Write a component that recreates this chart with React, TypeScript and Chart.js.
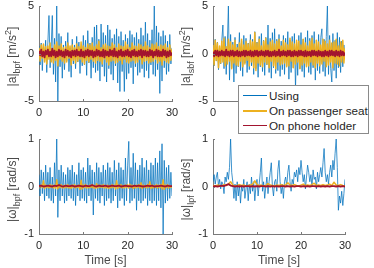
import React, { useEffect, useRef } from "react";
import { Chart, registerables } from "chart.js";

Chart.register(...registerables);

const W = 374;
const H = 268;
const FONT = "'Liberation Sans', Arial, Helvetica, sans-serif";
const BLUE = "#0072BD";
const YELLOW = "#EDB120";
const RED = "#A2142F";
const TICK_COLOR = "#262626";
const LABEL_COLOR = "#4a4a4a";
const AXIS_COLOR = "#7a7a7a";

const SERIES_NAMES = ["Using", "On passenger seat", "On phone holder"];
const X_TICKS = [0, 10, 20, 30];
const ACC_TICKS = [-5, 0, 5];
const GYRO_TICKS = [-1, 0, 1];
const TIME_SPAN = 30;
const X_TITLE = "Time [s]";

// ---- top-left: |a|bpf ----
const TL_USING = [
  0.8, -1.2, 1.1, -1.8, 0.9, -0.6, 1.4, -2.0,
  1.2, 4.0, -1.5, 0.7, 4.0, -2.2, 1.6, -3.0,
  5.0, -5.0, 2.1, -1.4, 1.8, -2.6, 0.9, -1.7,
  1.3, -0.8, 2.2, -1.9, 0.6, -2.5, 1.5, -1.1,
  0.9, -1.6, 1.8, -0.9, 1.2, -2.1, 0.7, -1.3,
  1.9, -1.2, 1.4, -2.3, 2.4, -1.0, 1.1, -2.6,
  1.7, -1.5, 2.8, -2.0, 3.0, -1.8, 1.5, -2.9,
  3.1, -1.4, 2.2, -2.4, 1.9, -3.0, 3.0, -1.6,
  2.5, -2.2, 1.6, -2.8, 2.0, -1.3, 2.6, -3.1,
  1.8, -4.0, 2.3, -1.9, 1.4, -4.0, 2.0, -2.7,
  1.6, -2.1, 2.4, -1.5, 2.0, -3.2, 1.7, -1.4,
  2.2, -2.3, 1.5, -2.0, 2.7, -1.6, 1.9, -2.5,
  3.3, -1.8, 2.1, -2.6, 1.4, -1.2, 2.5, -2.2,
  5.0, -2.4, 2.9, -1.7, 2.2, -4.2, 1.8, -2.9,
  2.4, -1.5, 1.9, -2.2, 1.3, -1.9, 2.0, -1.1, 0.6,
];
const TL_SEAT = [
  0.6, -0.8, 0.9, -0.5, 1.0, -0.9, 0.7, -1.1,
  0.8, -0.6, 1.1, -0.9, 0.5, -1.0, 0.9, -0.7,
  1.2, -1.3, 0.8, -0.6, 1.0, -0.8, 0.6, -1.0,
  0.7, -0.9, 1.1, -0.5, 0.8, -1.2, 0.9, -0.7,
  0.6, -1.0, 1.0, -0.8, 0.7, -0.6, 1.2, -0.9,
  0.8, -1.1, 0.6, -0.7, 1.0, -0.9, 0.9, -0.6,
  1.1, -0.8, 0.7, -1.0, 0.9, -0.7, 1.3, -0.8,
  0.6, -1.1, 0.9, -0.6, 1.0, -0.9, 0.8, -1.2,
  0.7, -0.8, 1.1, -0.7, 0.9, -1.0, 0.6, -0.9,
  1.0, -0.7, 0.8, -1.1, 0.7, -0.6, 1.2, -0.9,
  0.9, -1.0, 0.6, -0.8, 1.1, -0.7, 0.8, -1.0,
  0.7, -0.9, 1.0, -0.6, 0.9, -1.1, 0.7, -0.8,
  1.2, -0.7, 0.8, -1.0, 0.6, -0.9, 1.0, -0.8,
  0.9, -0.6, 1.1, -1.0, 0.7, -0.8, 0.9, -1.2,
  0.8, -0.7, 1.0, -0.9, 0.6, -1.0, 0.9, -0.7, 0.5,
];
const TL_HOLDER = [
  0.3, -0.2, 0.4, -0.3, 0.2, -0.4, 0.3, -0.1,
  0.4, -0.3, 0.2, -0.3, 0.5, -0.2, 0.3, -0.4,
  0.2, -0.3, 0.4, -0.2, 0.3, -0.3, 0.2, -0.4,
  0.4, -0.2, 0.3, -0.3, 0.2, -0.4, 0.3, -0.2,
  0.3, -0.3, 0.4, -0.2, 0.2, -0.3, 0.4, -0.3,
  0.2, -0.4, 0.3, -0.2, 0.4, -0.3, 0.3, -0.2,
  0.3, -0.4, 0.2, -0.3, 0.4, -0.2, 0.3, -0.3,
  0.2, -0.3, 0.4, -0.4, 0.3, -0.2, 0.2, -0.3,
  0.4, -0.2, 0.3, -0.3, 0.5, -0.3, 0.2, -0.4,
  0.3, -0.2, 0.4, -0.3, 0.2, -0.3, 0.3, -0.2,
  0.4, -0.3, 0.2, -0.4, 0.3, -0.2, 0.4, -0.3,
  0.2, -0.3, 0.3, -0.2, 0.4, -0.4, 0.3, -0.2,
  0.3, -0.3, 0.2, -0.3, 0.4, -0.2, 0.3, -0.4,
  0.2, -0.2, 0.4, -0.3, 0.3, -0.3, 0.2, -0.3,
  0.4, -0.2, 0.3, -0.4, 0.2, -0.3, 0.3, -0.2, 0.1,
];

// ---- top-right: |a|sbf ----
const TR_USING = [
  0.9, -1.3, 1.5, -0.8, 1.2, -1.7, 0.6, -1.1,
  1.4, 3.0, -1.6, 1.8, -2.2, 0.9, 5.0, -2.8,
  2.0, -1.5, 1.2, -3.0, 1.7, -2.1, 1.0, -1.4,
  2.2, -1.8, 1.3, -2.4, 1.9, -1.0, 1.6, -2.0,
  1.1, -1.7, 2.0, -1.3, 1.5, -2.2, 2.3, -1.6,
  1.2, -2.5, 1.8, -1.4, 2.1, -1.9, 1.4, -2.3,
  1.7, -1.2, 3.0, -2.0, 1.6, -2.6, 2.2, -1.5,
  2.6, -2.1, 1.5, -1.8, 2.0, -2.4, 1.3, -1.7,
  1.9, -2.2, 1.6, -1.3, 2.3, -2.7, 1.4, -2.0,
  1.8, -1.5, 2.1, -3.7, 1.2, -2.3, 1.9, -1.6,
  2.2, -1.9, 1.5, -2.5, 1.7, -1.4, 2.4, -2.0,
  1.6, -2.2, 1.9, -1.5, 2.3, -2.8, 1.4, -1.8,
  2.0, -2.1, 1.7, 2.6, -1.9, 1.5, -2.4, 1.8,
  5.0, -2.2, 1.9, -1.6, -3.0, 2.1, -1.8, 1.4,
  -2.6, 2.2, -1.5, 1.7, -2.0, 1.3, -1.4, 0.9, -0.6,
];
const TR_SEAT = [
  0.9, -1.2, 1.4, -0.7, 1.1, -1.5, 0.8, -1.0,
  1.3, -0.9, 1.6, -1.3, 0.7, -1.1, 1.5, -0.8,
  1.2, -1.6, 0.9, -1.0, 1.4, -1.2, 0.6, -1.3,
  1.1, -0.8, 1.5, -1.4, 0.9, -1.1, 1.3, -0.7,
  1.0, -1.3, 1.4, -0.9, 1.2, -1.5, 2.2, -1.8,
  1.1, -1.0, 1.5, -1.2, 0.8, -1.4, 1.3, -0.9,
  1.6, -1.1, 0.9, -1.5, 1.2, -0.8, 1.4, -1.3,
  1.0, -1.6, 1.3, -0.9, 1.5, -1.2, 0.8, -1.1,
  1.4, -1.0, 1.1, -1.4, 0.9, -1.3, 1.6, -0.8,
  1.2, -1.5, 1.0, -1.1, 1.4, -0.9, 1.3, -1.6,
  0.9, -1.2, 1.5, -1.0, 1.1, -1.4, 0.8, -1.3,
  1.3, -0.9, 1.6, -1.2, 1.0, -1.5, 1.4, -1.0,
  1.2, -1.3, 0.9, -1.1, 1.5, -0.8, 1.3, -1.4,
  1.0, -1.2, 1.4, -0.9, 1.1, -1.5, 1.2, -1.0,
  1.5, -1.1, 0.8, -1.3, 1.2, -0.9, 1.4, -1.0, 0.6,
];
const TR_HOLDER = [
  0.2, -0.3, 0.3, -0.2, 0.3, -0.3, 0.2, -0.2,
  0.3, -0.2, 0.2, -0.3, 0.4, -0.2, 0.2, -0.3,
  0.3, -0.2, 0.3, -0.3, 0.2, -0.2, 0.3, -0.3,
  0.2, -0.3, 0.2, -0.2, 0.3, -0.3, 0.3, -0.2,
  0.2, -0.2, 0.3, -0.3, 0.2, -0.3, 0.3, -0.2,
  0.3, -0.3, 0.2, -0.2, 0.3, -0.2, 0.2, -0.3,
  0.3, -0.2, 0.3, -0.3, 0.2, -0.3, 0.2, -0.2,
  0.3, -0.3, 0.2, -0.2, 0.4, -0.3, 0.2, -0.2,
  0.3, -0.2, 0.2, -0.3, 0.3, -0.2, 0.3, -0.3,
  0.2, -0.3, 0.3, -0.2, 0.2, -0.3, 0.3, -0.2,
  0.3, -0.2, 0.2, -0.3, 0.3, -0.3, 0.2, -0.2,
  0.2, -0.3, 0.3, -0.2, 0.3, -0.2, 0.2, -0.3,
  0.3, -0.2, 0.2, -0.3, 0.2, -0.3, 0.3, -0.2,
  0.2, -0.3, 0.3, -0.2, 0.3, -0.2, 0.2, -0.3,
  0.3, -0.2, 0.2, -0.3, 0.3, -0.2, 0.2, -0.2, 0.1,
];

// ---- bottom-left: |w|bpf ----
const BL_USING = [
  0.25, -0.2, 0.35, -0.15, 0.3, -0.3, 0.45, -0.2,
  0.3, -0.25, 0.4, -0.3, 0.2, -0.35, 0.5, -0.2,
  1.0, -0.65, 0.35, -0.3, 0.45, -0.2, 0.3, -0.35,
  0.25, -0.3, 0.4, -0.2, 0.35, -0.25, 0.45, -0.3,
  0.3, -0.4, 0.25, -0.2, 0.5, -0.3, 0.35, -0.25,
  0.4, -0.3, 0.3, -0.35, 0.6, -0.2, 0.45, -0.3,
  0.35, -0.6, 0.3, -0.25, 0.5, -0.3, 0.4, -0.35,
  0.3, -0.2, 0.45, -0.4, 0.35, -0.3, 0.5, -0.25,
  0.4, -0.35, 0.3, -0.3, 0.55, -0.2, 0.35, -0.45,
  0.5, -0.3, 0.4, -0.25, 0.35, -0.4, 0.6, -0.3,
  0.45, 0.95, -0.35, 0.4, -0.3, 0.7, -0.25, 0.5,
  -0.5, 0.35, -0.3, 0.45, -0.35, 0.6, -0.3, 0.4,
  -0.25, 0.55, -0.4, 0.35, -0.3, 0.5, -0.35, 0.45,
  -0.3, 0.6, -0.4, 0.5, -0.3, 0.75, -0.45, 0.9,
  -1.0, 0.55, -0.35, 0.4, -0.3, 0.45, -0.25, 0.3, -0.2,
];
const BL_SEAT = [
  0.02, -0.03, 0.03, -0.02, 0.12, -0.04, 0.03, -0.02,
  0.02, -0.03, 0.04, -0.02, 0.03, -0.03, 0.02, -0.04,
  0.14, -0.05, 0.03, -0.02, 0.04, -0.03, 0.02, -0.03,
  0.03, -0.02, 0.04, -0.03, 0.02, -0.04, 0.03, -0.02,
  0.04, -0.03, 0.02, -0.02, 0.03, -0.06, 0.13, -0.05,
  0.03, -0.02, 0.04, -0.03, 0.02, -0.03, 0.03, -0.02,
  0.04, -0.03, 0.02, -0.04, 0.06, -0.03, 0.03, -0.02,
  0.03, -0.02, 0.04, -0.03, 0.02, -0.03, 0.03, -0.04,
  0.02, -0.03, 0.04, -0.02, 0.03, -0.05, 0.12, -0.04,
  0.03, -0.02, 0.04, -0.03, 0.02, -0.03, 0.03, -0.02,
  0.04, -0.03, 0.05, -0.02, 0.03, -0.04, 0.02, -0.03,
  0.03, -0.02, 0.04, -0.03, 0.08, -0.04, 0.03, -0.02,
  0.02, -0.03, 0.04, -0.02, 0.10, -0.04, 0.03, -0.03,
  0.02, -0.02, 0.04, -0.03, 0.03, -0.02, 0.04, -0.05,
  0.14, -0.06, 0.03, -0.02, 0.04, -0.03, 0.02, -0.02, 0.01,
];
const BL_HOLDER = [
  0.01, 0.02, 0.0, 0.01, 0.02, 0.01, 0.0, 0.02, 0.01, 0.03,
  0.01, 0.0, 0.02, 0.01, 0.01, 0.02, 0.0, 0.01, 0.02, 0.01,
  0.0, 0.02, 0.01, 0.01, 0.03, 0.01, 0.0, 0.02, 0.01, 0.01,
  0.02, 0.0, 0.01, 0.02, 0.01, 0.01, 0.02, 0.0, 0.01, 0.02,
  0.01, 0.01, 0.0, 0.02, 0.01, 0.02, 0.01, 0.0, 0.01, 0.02,
  0.01, 0.02, 0.0, 0.01, 0.01, 0.02, 0.01, 0.0, 0.02, 0.01, 0.01,
];

// ---- bottom-right: |w|lpf ----
const BR_USING = [
  0.1, 0.25, 0.05, 0.2, 0.3, 0.0, 0.15, -0.05,
  0.1, 0.05, -0.15, 0.2, 0.1, 0.3, 0.15, 0.4,
  1.0, 0.3, 0.1, -0.25, 0.05, -0.3, 0.1, -0.2,
  0.05, -0.35, 0.0, -0.1, 0.15, -0.25, -0.05, 0.1,
  -0.3, 0.05, -0.15, 0.2, -0.1, 0.1, -0.3, 0.0,
  0.15, -0.2, 0.05, 0.3, 0.6, -0.1, 0.1, -0.25,
  0.0, 0.2, -0.15, 0.1, 0.3, 0.5, 0.0, -0.2,
  0.1, 0.15, -0.1, 0.35, 0.55, 0.1, -0.15, 0.05,
  -0.25, 0.1, 0.2, 0.0, 0.3, 0.45, 0.1, -0.1,
  0.15, 0.05, 0.3, 0.2, 0.35, 0.1, 0.4, 0.25,
  0.55, 0.3, 0.1, 0.25, -0.05, 0.2, 0.45, 0.3,
  0.1, 0.25, 0.0, 0.35, 0.15, 0.2, -0.05, 0.3,
  0.1, 0.25, 0.4, 0.2, 0.5, 0.8, 0.3, 0.1,
  0.25, 0.05, 0.3, 0.45, 0.2, 0.55, 0.35, 0.7,
  1.0, 0.4, -0.5, -0.2, -0.35, -0.1, -0.4, -0.15, 0.15,
];
const BR_SEAT = [
  0.02, 0.01, 0.03, 0.02, 0.01, 0.04, 0.02, 0.05, 0.1, 0.03,
  0.01, 0.02, 0.04, 0.02, 0.03, 0.01, 0.02, 0.03, 0.05, 0.12,
  0.04, 0.02, 0.03, 0.01, 0.02, 0.06, 0.03, 0.02, 0.01, 0.03,
  0.02, 0.04, 0.02, 0.03, 0.08, 0.03, 0.02, 0.04, 0.02, 0.01,
  0.03, 0.05, 0.02, 0.03, 0.02, 0.04, 0.07, 0.02, 0.03, 0.02,
  0.04, 0.02, 0.03, 0.05, 0.02, 0.09, 0.03, 0.02, 0.04, 0.02, 0.01,
];
const BR_HOLDER = [
  0.0, 0.01, 0.0, 0.01, 0.02, 0.01, 0.03, 0.05, 0.02, 0.01,
  0.0, 0.01, 0.0, 0.01, 0.0, 0.01, 0.01, 0.0, 0.01, 0.0,
  0.01, 0.0, 0.01, 0.01, 0.0, 0.01, 0.0, 0.01, 0.0, 0.01,
  0.0, 0.01, 0.01, 0.0, 0.01, 0.0, 0.01, 0.0, 0.01, 0.01,
  0.0, 0.01, 0.0, 0.01, 0.0, 0.01, 0.01, 0.0, 0.01, 0.0,
  0.01, 0.0, 0.01, 0.0, 0.01, 0.01, 0.0, 0.01, 0.0, 0.01, 0.0,
];

type Piece = { t: string; s: "n" | "sub" | "sup" };

const LABEL_A_BPF: Piece[] = [
  { t: "|a|", s: "n" }, { t: "bpf", s: "sub" }, { t: " [m/s", s: "n" }, { t: "2", s: "sup" }, { t: "]", s: "n" },
];
const LABEL_A_SBF: Piece[] = [
  { t: "|a|", s: "n" }, { t: "sbf", s: "sub" }, { t: " [m/s", s: "n" }, { t: "2", s: "sup" }, { t: "]", s: "n" },
];
const LABEL_W_BPF: Piece[] = [
  { t: "|ω|", s: "n" }, { t: "bpf", s: "sub" }, { t: " [rad/s]", s: "n" },
];
const LABEL_W_LPF: Piece[] = [
  { t: "|ω|", s: "n" }, { t: "lpf", s: "sub" }, { t: " [rad/s]", s: "n" },
];

type PanelDef = {
  left: number; top: number; right: number; bottom: number;
  yTicks: number[];
  using: number[]; seat: number[]; holder: number[];
  label: Piece[]; xTitle: boolean;
};

const PANELS: PanelDef[] = [
  { left: 39, top: 6, right: 172, bottom: 101, yTicks: ACC_TICKS, using: TL_USING, seat: TL_SEAT, holder: TL_HOLDER, label: LABEL_A_BPF, xTitle: false },
  { left: 213, top: 6, right: 345, bottom: 101, yTicks: ACC_TICKS, using: TR_USING, seat: TR_SEAT, holder: TR_HOLDER, label: LABEL_A_SBF, xTitle: false },
  { left: 39, top: 139, right: 172, bottom: 234, yTicks: GYRO_TICKS, using: BL_USING, seat: BL_SEAT, holder: BL_HOLDER, label: LABEL_W_BPF, xTitle: true },
  { left: 213, top: 139, right: 345, bottom: 234, yTicks: GYRO_TICKS, using: BR_USING, seat: BR_SEAT, holder: BR_HOLDER, label: LABEL_W_LPF, xTitle: true },
];

function toPoints(values: number[]) {
  const step = TIME_SPAN / (values.length - 1);
  return values.map((v, i) => ({ x: i * step, y: v }));
}

function drawRich(ctx: CanvasRenderingContext2D, pieces: Piece[], bx: number, cy: number, size: number) {
  const small = Math.round(size * 0.75);
  ctx.save();
  ctx.translate(bx, cy);
  ctx.rotate(-Math.PI / 2);
  ctx.fillStyle = LABEL_COLOR;
  ctx.textAlign = "left";
  ctx.textBaseline = "alphabetic";
  const widths = pieces.map((p) => {
    ctx.font = `${p.s === "n" ? size : small}px ${FONT}`;
    return ctx.measureText(p.t).width;
  });
  const total = widths.reduce((a, b) => a + b, 0);
  let x = -total / 2;
  pieces.forEach((p, i) => {
    ctx.font = `${p.s === "n" ? size : small}px ${FONT}`;
    const dy = p.s === "sub" ? size * 0.3 : p.s === "sup" ? -size * 0.42 : 0;
    ctx.fillText(p.t, x, dy);
    x += widths[i];
  });
  ctx.restore();
}

function buildConfig(p: PanelDef): any {
  const YW = 30;
  const XH = 20;
  const yMin = p.yTicks[0];
  const yMax = p.yTicks[p.yTicks.length - 1];
  const deco = {
    id: "deco",
    afterDraw(chart: any) {
      const ctx = chart.ctx as CanvasRenderingContext2D;
      const xs = chart.scales.x;
      const ys = chart.scales.y;
      const a = chart.chartArea;
      ctx.save();
      ctx.strokeStyle = AXIS_COLOR;
      ctx.lineWidth = 1;
      ctx.beginPath();
      X_TICKS.forEach((v) => {
        const px = Math.round(xs.getPixelForValue(v)) + 0.5;
        ctx.moveTo(px, a.bottom);
        ctx.lineTo(px, a.bottom - 2);
      });
      p.yTicks.forEach((v) => {
        const py = Math.round(ys.getPixelForValue(v)) + 0.5;
        ctx.moveTo(a.left, py);
        ctx.lineTo(a.left + 2, py);
      });
      ctx.stroke();
      ctx.restore();
      drawRich(ctx, p.label, a.left - 23, (a.top + a.bottom) / 2 + 3, 12);
      if (p.xTitle) {
        ctx.save();
        ctx.font = `12px ${FONT}`;
        ctx.fillStyle = LABEL_COLOR;
        ctx.textAlign = "center";
        ctx.textBaseline = "middle";
        ctx.fillText(X_TITLE, (a.left + a.right) / 2, 261);
        ctx.restore();
      }
    },
  };
  const line = (values: number[], color: string, width: number, order: number, label: string) => ({
    label,
    data: toPoints(values),
    borderColor: color,
    backgroundColor: color,
    borderWidth: width,
    pointRadius: 0,
    tension: 0,
    fill: false,
    order,
    borderJoinStyle: "round",
  });
  return {
    type: "line",
    data: {
      datasets: [
        line(p.using, BLUE, 0.75, 3, SERIES_NAMES[0]),
        line(p.seat, YELLOW, 1.5, 2, SERIES_NAMES[1]),
        line(p.holder, RED, 1.8, 1, SERIES_NAMES[2]),
      ],
    },
    options: {
      responsive: false,
      animation: false,
      events: [],
      layout: { padding: { left: p.left - YW, top: p.top, right: W - p.right, bottom: H - p.bottom - XH } },
      plugins: { legend: { display: false }, tooltip: { enabled: false } },
      scales: {
        x: {
          type: "linear",
          min: 0,
          max: TIME_SPAN,
          afterBuildTicks: (s: any) => { s.ticks = X_TICKS.map((v) => ({ value: v })); },
          afterFit: (s: any) => { s.height = XH; s.paddingLeft = 0; s.paddingRight = 0; },
          ticks: { padding: 5, color: TICK_COLOR, font: { family: FONT, size: 11 }, maxRotation: 0, callback: (v: any) => String(v) },
          grid: { display: false, drawTicks: false },
          border: { display: true, color: AXIS_COLOR, width: 1 },
        },
        y: {
          type: "linear",
          min: yMin,
          max: yMax,
          afterBuildTicks: (s: any) => { s.ticks = p.yTicks.map((v) => ({ value: v })); },
          afterFit: (s: any) => { s.width = YW; s.paddingTop = 0; s.paddingBottom = 0; },
          ticks: { padding: 5, color: TICK_COLOR, font: { family: FONT, size: 11 }, callback: (v: any) => String(v) },
          grid: { display: false, drawTicks: false },
          border: { display: true, color: AXIS_COLOR, width: 1 },
        },
      },
    },
    plugins: [deco],
  };
}

function Panel({ def }: { def: PanelDef }) {
  const ref = useRef<HTMLCanvasElement>(null);
  useEffect(() => {
    const chart = new Chart(ref.current as HTMLCanvasElement, buildConfig(def));
    return () => chart.destroy();
  }, [def]);
  return (
    <canvas
      ref={ref}
      width={W}
      height={H}
      style={{ position: "absolute", left: 0, top: 0, width: W, height: H }}
    />
  );
}

const LEGEND_COLORS = [BLUE, YELLOW, RED];
const LEGEND_WIDTHS = [1, 2, 1.2];

function Legend() {
  return (
    <div
      style={{
        position: "absolute",
        left: 238,
        top: 85,
        width: 131,
        height: 49,
        boxSizing: "border-box",
        border: "1px solid #8a8a8a",
        background: "#fff",
        fontFamily: FONT,
        fontSize: 11.7,
        color: TICK_COLOR,
      }}
    >
      {SERIES_NAMES.map((name, i) => (
        <div
          key={name}
          style={{ position: "absolute", left: 0, top: 2 + i * 15, height: 15, width: "100%" }}
        >
          <div
            style={{
              position: "absolute",
              left: 4,
              top: 7.5 - LEGEND_WIDTHS[i] / 2,
              width: 24,
              height: LEGEND_WIDTHS[i],
              background: LEGEND_COLORS[i],
            }}
          />
          <span style={{ position: "absolute", left: 30, top: 0, lineHeight: "15px", whiteSpace: "nowrap" }}>
            {name}
          </span>
        </div>
      ))}
    </div>
  );
}

export default function App() {
  useEffect(() => {
    document.body.style.margin = "0";
  }, []);
  return (
    <div style={{ position: "fixed", left: 0, top: 0, width: W, height: H, background: "#fff", overflow: "hidden" }}>
      {PANELS.map((d, i) => (
        <Panel key={i} def={d} />
      ))}
      <Legend />
    </div>
  );
}
